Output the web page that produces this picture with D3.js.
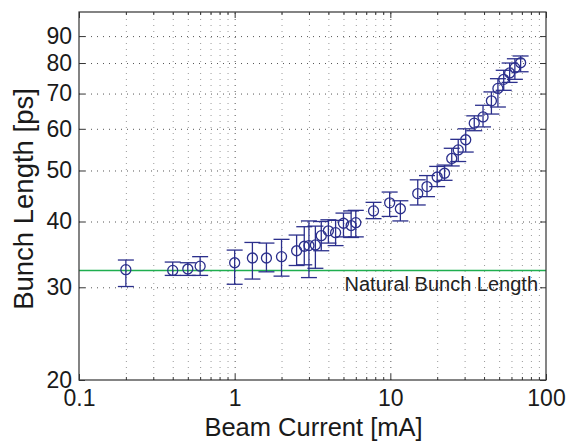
<!DOCTYPE html>
<html>
<head>
<meta charset="utf-8">
<script src="https://cdn.jsdelivr.net/npm/d3@7"></script>
<style>
  body { margin: 0; background: #fff; }
  svg { font-family: "Liberation Sans", Arial, Helvetica, sans-serif; }
  .axis path { display: none; }
  .axis text { font-size: 23px; fill: #1a1a1a; }
  .axis line { stroke: #333; }
  .grid line { stroke: #555; stroke-dasharray: 1,5; }
  .grid.minor line { stroke: #999; }
  .grid path { display: none; }
</style>
</head>
<body>
<div class="chart"></div>
<script>
// beam current [mA]
var current = [0.2, 0.4, 0.5, 0.6, 1.0, 1.3, 1.6, 2.0, 2.5, 2.8, 3.0, 3.3, 3.6, 4.0, 4.45, 5.0, 5.6, 6.0,
  7.8, 9.9, 11.6, 15.0, 17.2, 20.0, 22.3, 24.8, 27.3, 30.5, 34.6, 39.4, 44.6, 49.1, 53.5, 58.4, 63.1, 68.7];
// bunch length [ps]
var bunchLength = [32.4, 32.3, 32.5, 32.9, 33.4, 34.1, 34.1, 34.3, 35.2, 35.9, 36.0, 36.1, 37.6, 38.4, 38.1, 39.7, 39.3, 39.8,
  41.9, 43.4, 42.3, 45.2, 46.6, 48.6, 49.4, 52.7, 54.7, 57.2, 61.5, 63.2, 67.8, 71.6, 74.5, 76.6, 78.3, 80.1];
var errLow = [30.1, 31.6, 31.6, 31.6, 30.4, 31.1, 32.1, 31.5, 33.0, 33.1, 31.3, 32.6, 35.2, 36.4, 36.0, 37.4, 37.3, 37.4,
  40.5, 40.9, 40.1, 43.0, 44.6, 46.6, 47.9, 51.0, 52.0, 54.2, 59.5, 60.5, 64.0, 66.0, 71.0, 73.5, 74.5, 77.0];
var errHigh = [33.8, 33.5, 33.4, 34.3, 35.3, 36.5, 36.4, 37.0, 37.7, 39.1, 40.1, 39.2, 40.0, 40.3, 40.2, 41.5, 41.9, 42.0,
  43.5, 45.5, 43.8, 48.0, 48.9, 50.9, 51.2, 55.1, 57.3, 60.0, 63.5, 66.5, 70.5, 74.7, 77.5, 80.0, 81.5, 82.5];

var naturalLength = 32.3;

var xTicks = [0.1, 1, 10, 100];
var yTicks = [20, 30, 40, 50, 60, 70, 80, 90];

var margin = {top: 12, right: 20, bottom: 63, left: 79},
    width = 566 - margin.left - margin.right,
    height = 443 - margin.top - margin.bottom;

var blue = "#2b2f8c";

var x = d3.scaleLog().domain([0.1, 100]).range([0, width]);
var y = d3.scaleLog().domain([20, 100]).range([height, 0]);

// minor x ticks 2..9 per decade
var xMinor = [];
[0.1, 1, 10].forEach(function (d) {
  for (var k = 2; k <= 9; k++) xMinor.push(d * k);
});

var data = current.map(function (c, i) {
  return {x: c, y: bunchLength[i], lo: errLow[i], hi: errHigh[i]};
});

var svg = d3.select(".chart").append("svg")
    .attr("width", width + margin.left + margin.right)
    .attr("height", height + margin.top + margin.bottom)
  .append("g")
    .attr("transform", "translate(" + margin.left + "," + margin.top + ")");

// grid
svg.append("g")
  .attr("class", "grid minor")
  .attr("transform", "translate(0," + height + ")")
  .call(d3.axisBottom(x).tickValues(xMinor).tickSize(-height).tickFormat(""));
svg.append("g")
  .attr("class", "grid")
  .attr("transform", "translate(0," + height + ")")
  .call(d3.axisBottom(x).tickValues(xTicks.slice(1, 3)).tickSize(-height).tickFormat(""));
svg.append("g")
  .attr("class", "grid")
  .call(d3.axisLeft(y).tickValues(yTicks.slice(1)).tickSize(-width).tickFormat(""));

// natural bunch length
svg.append("line")
  .attr("x1", 0).attr("x2", width)
  .attr("y1", y(naturalLength)).attr("y2", y(naturalLength))
  .attr("stroke", "#1fae4f")
  .attr("stroke-width", 1.5);

svg.append("text")
  .attr("x", width - 8)
  .attr("y", y(naturalLength) + 21)
  .attr("text-anchor", "end")
  .style("font-size", "20px")
  .style("fill", "#222")
  .text("Natural Bunch Length");

// error bars
var capHalf = 8;
var eb = svg.append("g")
  .attr("stroke", blue)
  .attr("stroke-width", 1.3)
  .attr("fill", "none");

eb.selectAll(".bar").data(data).enter().append("line")
  .attr("x1", function (d) { return x(d.x); })
  .attr("x2", function (d) { return x(d.x); })
  .attr("y1", function (d) { return y(d.lo); })
  .attr("y2", function (d) { return y(d.hi); });

eb.selectAll(".caplo").data(data).enter().append("line")
  .attr("x1", function (d) { return x(d.x) - capHalf; })
  .attr("x2", function (d) { return x(d.x) + capHalf; })
  .attr("y1", function (d) { return y(d.lo); })
  .attr("y2", function (d) { return y(d.lo); });

eb.selectAll(".caphi").data(data).enter().append("line")
  .attr("x1", function (d) { return x(d.x) - capHalf; })
  .attr("x2", function (d) { return x(d.x) + capHalf; })
  .attr("y1", function (d) { return y(d.hi); })
  .attr("y2", function (d) { return y(d.hi); });

eb.selectAll("circle").data(data).enter().append("circle")
  .attr("cx", function (d) { return x(d.x); })
  .attr("cy", function (d) { return y(d.y); })
  .attr("r", 5);

// axes, ticks inside on all four sides
function fmt(d) { return d < 1 ? d3.format(".1f")(d) : d3.format("d")(d); }

svg.append("g")
  .attr("class", "x axis")
  .attr("transform", "translate(0," + height + ")")
  .call(d3.axisBottom(x).tickValues(xTicks).tickSize(-6).tickPadding(10).tickFormat(fmt));

svg.append("g")
  .attr("class", "axis")
  .attr("transform", "translate(0," + height + ")")
  .call(d3.axisBottom(x).tickValues(xMinor).tickSize(-3).tickFormat(""));
svg.append("g")
  .attr("class", "axis")
  .call(d3.axisTop(x).tickValues(xTicks).tickSize(-6).tickFormat(""));
svg.append("g")
  .attr("class", "axis")
  .call(d3.axisTop(x).tickValues(xMinor).tickSize(-3).tickFormat(""));

svg.append("g")
  .attr("class", "y axis")
  .call(d3.axisLeft(y).tickValues(yTicks).tickSize(-6).tickPadding(7).tickFormat(d3.format("d")));
svg.append("g")
  .attr("class", "axis")
  .attr("transform", "translate(" + width + ",0)")
  .call(d3.axisRight(y).tickValues(yTicks).tickSize(-6).tickFormat(""));

// frame
svg.append("rect")
  .attr("width", width)
  .attr("height", height)
  .attr("fill", "none")
  .attr("stroke", "#333")
  .attr("stroke-width", 1.2);

// labels
svg.append("text")
  .attr("x", width / 2 + 1)
  .attr("y", height + 56)
  .attr("text-anchor", "middle")
  .style("font-size", "25.5px")
  .style("fill", "#1a1a1a")
  .text("Beam Current [mA]");

svg.append("text")
  .attr("transform", "rotate(-90)")
  .attr("x", -(199 - margin.top))
  .attr("y", -46)
  .attr("text-anchor", "middle")
  .style("font-size", "27.5px")
  .style("fill", "#1a1a1a")
  .text("Bunch Length [ps]");
</script>
</body>
</html>
